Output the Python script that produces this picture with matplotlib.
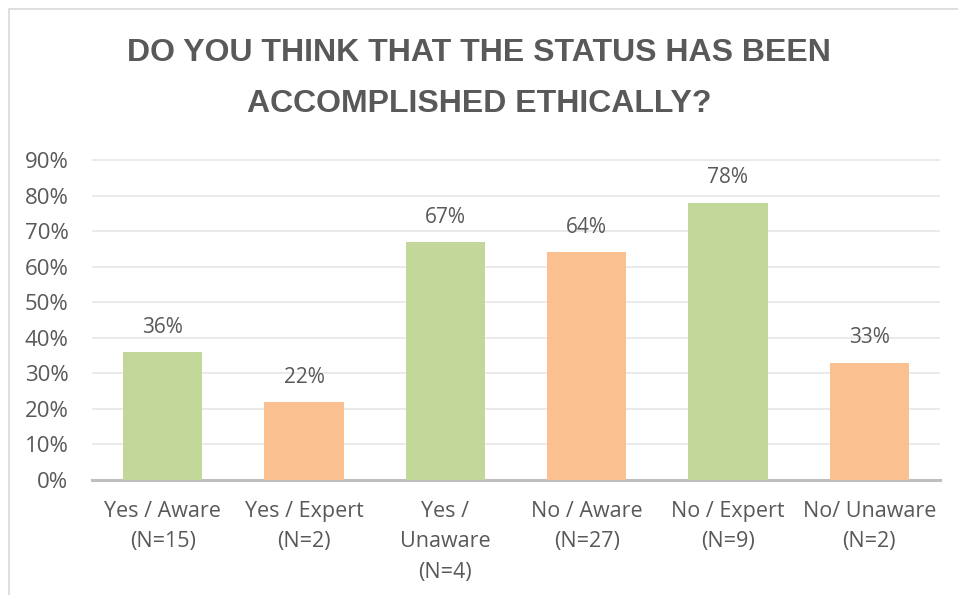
import matplotlib.pyplot as plt
from matplotlib.patches import Rectangle
from matplotlib.ticker import PercentFormatter

categories = ['Yes / Aware\n(N=15)', 'Yes / Expert\n(N=2)', 'Yes /\nUnaware\n(N=4)',
              'No / Aware\n(N=27)', 'No / Expert\n(N=9)', 'No/ Unaware\n(N=2)']
values = [36, 22, 67, 64, 78, 33]
colors = ['#c4d79b', '#fac090', '#c4d79b', '#fac090', '#c4d79b', '#fac090']

text_col = '#595959'
label_font = ['Open Sans', 'DejaVu Sans']
plt.rcParams['font.family'] = ['Liberation Sans', 'DejaVu Sans']

fig = plt.figure(figsize=(9.58, 5.95), dpi=100)
ax = fig.add_axes([92 / 958, 1 - 480 / 595, (940 - 92) / 958, 320 / 595 * 100 / 90])

# outer chart frame
fig.patches.append(Rectangle((9 / 958, -0.05), 1.1, 1 - 9 / 595 + 0.05, transform=fig.transFigure,
                             fill=False, edgecolor='#d9d9d9', linewidth=1.2))

x = range(len(values))
bars = ax.bar(x, values, width=0.56, color=colors, zorder=3)
for b, v in zip(bars, values):
    ax.text(b.get_x() + b.get_width() / 2, v + 4, f'{v}%', ha='center', va='bottom',
            fontsize=15, color=text_col, family=label_font)

ax.set_xlim(-0.5, len(values) - 0.5)
ax.set_ylim(0, 100)
ax.set_yticks(range(0, 91, 10))
ax.yaxis.set_major_formatter(PercentFormatter(decimals=0))
ax.set_xticks(list(x))
ax.set_xticklabels(categories, fontsize=15.5, color=text_col, linespacing=1.6,
                   family=label_font)
ax.tick_params(axis='y', labelsize=16, colors=text_col, length=0, pad=17)
ax.tick_params(axis='x', length=0, pad=15)
for lbl in ax.get_yticklabels():
    lbl.set_family(label_font)
ax.grid(axis='y', color='#e6e6e6', linewidth=1.2, zorder=0)
for s in ['top', 'right', 'left']:
    ax.spines[s].set_visible(False)
ax.spines['bottom'].set_color('#bfbfbf')
ax.spines['bottom'].set_linewidth(2.2)

fig.text(0.5, 1 - 53 / 595, 'DO YOU THINK THAT THE STATUS HAS BEEN', ha='center', va='center',
         fontsize=23, fontweight='bold', color=text_col)
fig.text(0.5, 1 - 104 / 595, 'ACCOMPLISHED ETHICALLY?', ha='center', va='center',
         fontsize=23, fontweight='bold', color=text_col)

fig.savefig('out.png', dpi=100)
